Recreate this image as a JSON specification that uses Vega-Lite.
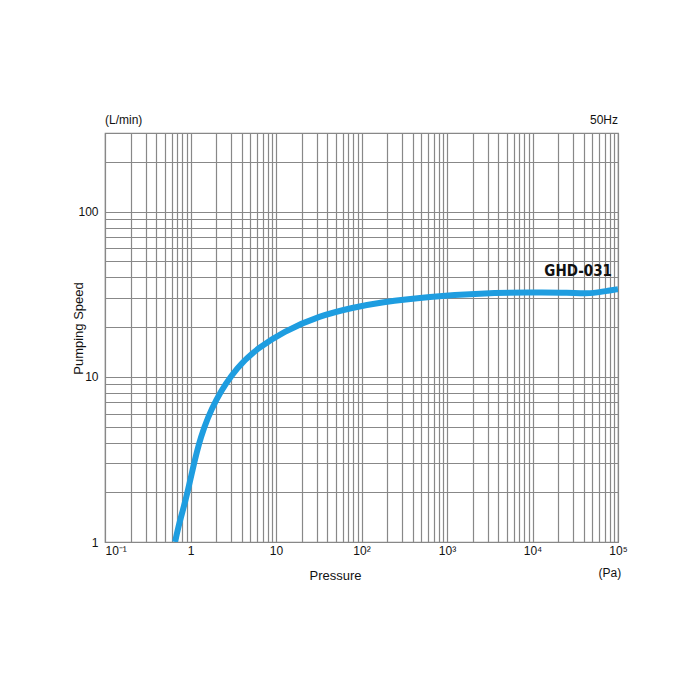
{
  "$schema": "https://vega.github.io/schema/vega-lite/v6.json",
  "width": 513,
  "height": 409,
  "autosize": {"type": "none"},
  "padding": {"left": 105, "top": 133, "right": 82, "bottom": 158},
  "background": "white",
  "config": {
    "view": {"stroke": "#888888", "strokeWidth": 1.2},
    "font": "Liberation Sans"
  },
  "datasets": {
    "curve": [
      {"pressure": 0.659, "speed": 1.0},
      {"pressure": 0.754, "speed": 1.36},
      {"pressure": 0.862, "speed": 1.72},
      {"pressure": 1.04, "speed": 2.63},
      {"pressure": 1.29, "speed": 4.3},
      {"pressure": 1.94, "speed": 7.34},
      {"pressure": 3.6, "speed": 11.7},
      {"pressure": 6.0, "speed": 14.8},
      {"pressure": 12.1, "speed": 18.8},
      {"pressure": 32.7, "speed": 23.5},
      {"pressure": 80, "speed": 26.3},
      {"pressure": 164, "speed": 28.3},
      {"pressure": 632, "speed": 30.7},
      {"pressure": 2430, "speed": 32.1},
      {"pressure": 9350, "speed": 32.5},
      {"pressure": 27500, "speed": 32.4},
      {"pressure": 47100, "speed": 31.8},
      {"pressure": 80600, "speed": 33.4},
      {"pressure": 100000, "speed": 34.0}
    ],
    "unitY": [{"pressure": 0.1, "speed": 359, "text": "(L/min)"}],
    "freq": [{"pressure": 100000, "speed": 359, "text": "50Hz"}],
    "unitX": [{"pressure": 80500, "speed": 0.65, "text": "(Pa)"}],
    "model": [{"pressure": 85000, "speed": 43.7, "text": "GHD-031"}]
  },
  "layer": [
    {
      "data": {"name": "curve"},
      "mark": {"type": "line", "color": "#1E9DE0", "strokeWidth": 6, "interpolate": "basis", "clip": true},
      "encoding": {
        "x": {
          "field": "pressure", "type": "quantitative",
          "scale": {"type": "log", "domain": [0.1, 100000], "nice": false},
          "axis": {
            "title": "Pressure",
            "titleFont": "Liberation Sans", "titleFontWeight": "normal", "titleFontSize": 13, "titleColor": "#111111",
            "titleX": 230, "titlePadding": 13,
            "values": [0.1,0.2,0.3,0.4,0.5,0.6,0.7,0.8,0.9,1,2,3,4,5,6,7,8,9,10,20,30,40,50,60,70,80,90,100,200,300,400,500,600,700,800,900,1000,2000,3000,4000,5000,6000,7000,8000,9000,10000,20000,30000,40000,50000,60000,70000,80000,90000,100000],
            "labelExpr": "datum.value == 0.1 ? '10⁻¹' : datum.value == 1 ? '1' : datum.value == 10 ? '10' : datum.value == 100 ? '10²' : datum.value == 1000 ? '10³' : datum.value == 10000 ? '10⁴' : datum.value == 100000 ? '10⁵' : ''",
            "labelAlign": {"condition": {"test": "datum.value == 0.1", "value": "left"}, "value": "center"},
            "labelFont": "Liberation Sans", "labelFontSize": 12, "labelColor": "#111111",
            "labelPadding": 3, "labelOverlap": false, "labelFlush": false,
            "ticks": false, "domain": false,
            "grid": true, "gridColor": "#888888", "gridWidth": 1.2, "gridOpacity": 1
          }
        },
        "y": {
          "field": "speed", "type": "quantitative",
          "scale": {"type": "log", "domain": [1, 300], "nice": false},
          "axis": {
            "title": "Pumping Speed",
            "titleFont": "Liberation Sans", "titleFontWeight": "normal", "titleFontSize": 13, "titleColor": "#111111",
            "titleX": -20, "titleY": 195, "titleAngle": -90, "titleAlign": "center", "titleBaseline": "bottom",
            "values": [1,2,3,4,5,6,7,8,9,10,20,30,40,50,60,70,80,90,100,200,300],
            "labelExpr": "datum.value == 1 ? '1' : datum.value == 10 ? '10' : datum.value == 100 ? '100' : ''",
            "labelFont": "Liberation Sans", "labelFontSize": 12, "labelColor": "#111111",
            "labelPadding": 7, "labelOverlap": false, "labelFlush": false,
            "ticks": false, "domain": false,
            "grid": true, "gridColor": "#888888", "gridWidth": 1.2, "gridOpacity": 1
          }
        }
      }
    },
    {
      "data": {"name": "unitY"},
      "mark": {"type": "text", "fontSize": 12, "font": "Liberation Sans", "color": "#111111", "align": "left", "baseline": "middle", "clip": false},
      "encoding": {
        "x": {"field": "pressure", "type": "quantitative"},
        "y": {"field": "speed", "type": "quantitative"},
        "text": {"field": "text"}
      }
    },
    {
      "data": {"name": "freq"},
      "mark": {"type": "text", "fontSize": 12, "font": "Liberation Sans", "color": "#111111", "align": "right", "baseline": "middle", "clip": false},
      "encoding": {
        "x": {"field": "pressure", "type": "quantitative"},
        "y": {"field": "speed", "type": "quantitative"},
        "text": {"field": "text"}
      }
    },
    {
      "data": {"name": "unitX"},
      "mark": {"type": "text", "fontSize": 12, "font": "Liberation Sans", "color": "#111111", "align": "center", "baseline": "middle", "clip": false},
      "encoding": {
        "x": {"field": "pressure", "type": "quantitative"},
        "y": {"field": "speed", "type": "quantitative"},
        "text": {"field": "text"}
      }
    },
    {
      "data": {"name": "model"},
      "mark": {"type": "text", "fontSize": 15, "font": "DejaVu Sans Condensed", "fontWeight": "bold", "color": "#111111", "align": "right", "baseline": "middle"},
      "encoding": {
        "x": {"field": "pressure", "type": "quantitative"},
        "y": {"field": "speed", "type": "quantitative"},
        "text": {"field": "text"}
      }
    }
  ]
}
